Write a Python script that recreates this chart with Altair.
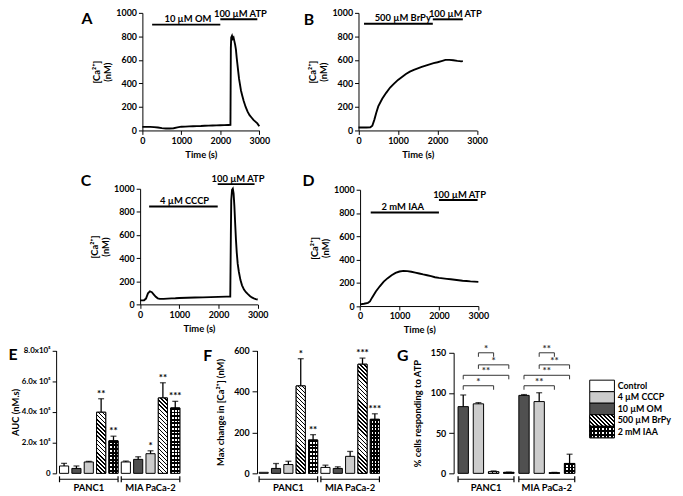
import math
import altair as alt
import pandas as pd

# ---------------- values ----------------
# Panels A-D: cytosolic [Ca2+] traces (time in s, [Ca2+] in nM)
A_t = [0, 100, 200, 300, 400, 500, 600, 700, 800, 900, 1000, 1100, 1200, 1300, 1400, 1500, 1600, 1700,
       1800, 1900, 2000, 2100, 2200, 2260, 2270, 2280, 2300, 2320, 2340, 2360, 2380, 2400, 2420, 2440,
       2460, 2480, 2500, 2530, 2560, 2600, 2650, 2700, 2750, 2800, 2850, 2900, 2950, 3000]
A_v = [30, 30, 30, 28, 25, 20, 17, 17, 19, 26, 32, 33, 35, 36, 37, 38, 40, 41,
       42, 43, 44, 45, 46, 47, 700, 790, 805, 780, 790, 760, 730, 690, 620, 560,
       500, 440, 400, 340, 300, 250, 200, 160, 130, 110, 90, 75, 60, 35]

B_t = [0, 100, 200, 300, 350, 400, 450, 500, 600, 700, 800, 900, 1000, 1100, 1200, 1300, 1400, 1500,
       1600, 1700, 1800, 1900, 2000, 2100, 2200, 2300, 2400, 2500, 2600, 2640]
B_v = [25, 25, 25, 27, 40, 90, 150, 205, 270, 320, 365, 398, 430, 455, 480, 500, 515, 528,
       540, 552, 562, 572, 580, 590, 600, 600, 597, 592, 588, 590]

C_t = [0, 50, 100, 150, 200, 250, 300, 350, 400, 450, 500, 600, 700, 800, 900, 1000, 1200, 1400,
       1600, 1800, 2000, 2200, 2300, 2315, 2325, 2345, 2365, 2385, 2405, 2425, 2445, 2465, 2490,
       2520, 2560, 2600, 2650, 2700, 2750, 2800, 2850, 2900, 2950, 3000]
C_v = [35, 35, 36, 50, 95, 112, 105, 85, 65, 52, 48, 48, 50, 52, 53, 55, 57, 59,
       61, 63, 65, 67, 68, 600, 900, 990, 1000, 960, 850, 700, 560, 450, 350,
       280, 210, 165, 128, 105, 88, 72, 60, 52, 46, 42]

D_t = [0, 100, 200, 250, 300, 400, 500, 600, 700, 800, 900, 1000, 1100, 1200, 1300, 1400, 1500,
       1600, 1700, 1800, 1900, 2000, 2100, 2200, 2300, 2400, 2500, 2600, 2700, 2800, 2900, 3000]
D_v = [15, 20, 28, 40, 70, 125, 170, 210, 240, 265, 285, 297, 302, 300, 295, 288, 280,
       272, 265, 257, 248, 242, 238, 234, 230, 226, 222, 218, 215, 212, 210, 208]

TIME_TICKS = [0, 1000, 2000, 3000]
CA_TICKS = [0, 200, 400, 600, 800, 1000]

# drug application bars (label, start s, end s, bar level nM, label centre s)
A_ann_text = ["10 µM OM", "100 µM ATP"]
A_ann_from = [250, 2000]
A_ann_to = [2000, 2950]
A_ann_level = [900, 945]
A_ann_text_t = [1168, 2515]

B_ann_text = ["500 µM BrPy", "100 µM ATP"]
B_ann_from = [140, 1880]
B_ann_to = [1880, 2640]
B_ann_level = [907, 945]
B_ann_text_t = [1120, 2450]

C_ann_text = ["4 µM CCCP", "100 µM ATP"]
C_ann_from = [230, 1980]
C_ann_to = [1980, 2920]
C_ann_level = [846, 1040]
C_ann_text_t = [1134, 2498]

D_ann_text = ["2 mM IAA", "100 µM ATP"]
D_ann_from = [270, 2000]
D_ann_to = [2000, 2980]
D_ann_level = [805, 912]
D_ann_text_t = [1083, 2524]

# Panels E-G: bar charts
GROUPS = ["PANC1", "MIA PaCa-2"]
EF_CONDS = ["Control", "10 µM OM", "4 µM CCCP", "500 µM BrPy", "2 mM IAA"]
G_CONDS = ["10 µM OM", "4 µM CCCP", "500 µM BrPy", "2 mM IAA"]
LEGEND_CONDS = ["Control", "4 µM CCCP", "10 µM OM", "500 µM BrPy", "2 mM IAA"]
LEGEND_FILLS = ["white", "#cccccc", "#505050", "white", "white"]
HATCHED = "500 µM BrPy"
CHECKED = "2 mM IAA"

E_PANC1_mean = [48000, 32000, 74000, 398000, 212000]
E_PANC1_err = [17000, 16000, 4000, 88000, 30000]
E_PANC1_sig = ["", "", "", "**", "**"]
E_MIA_mean = [74000, 91000, 128000, 491000, 426000]
E_MIA_err = [6000, 17000, 19000, 99000, 43000]
E_MIA_sig = ["", "", "*", "**", "***"]
E_TICKS = [0, 200000, 400000, 600000, 800000]

F_PANC1_mean = [5, 24, 43, 427, 163]
F_PANC1_err = [0, 24, 16, 133, 26]
F_PANC1_sig = ["", "", "", "*", "**"]
F_MIA_mean = [29, 24, 83, 533, 264]
F_MIA_err = [11, 8, 24, 30, 27]
F_MIA_sig = ["", "", "", "***", "***"]
F_TICKS = [0, 200, 400, 600]

G_PANC1_mean = [83, 86.5, 2, 1.2]
G_PANC1_err = [14.5, 1.5, 1, 0.3]
G_MIA_mean = [97, 89.3, 0.8, 12.3]
G_MIA_err = [1, 11, 0.4, 11.5]
G_NOSIG = ["", "", "", ""]
G_TICKS = [0, 50, 100, 150]

G_br_group = ["PANC1"] * 4 + ["MIA PaCa-2"] * 4
G_br_from = ["4 µM CCCP", "4 µM CCCP", "10 µM OM", "10 µM OM"] * 2
G_br_to = ["500 µM BrPy", "2 mM IAA", "2 mM IAA", "500 µM BrPy"] * 2
G_br_level = [150, 135, 122, 109] * 2
G_br_label = ["*", "*", "**", "*", "**", "**", "**", "**"]

# ---------------- layout / style ----------------
W, H = 675, 488
FONT = "Lato"
GEOM = {
    "A": dict(xr=[136, 254.3], yr=[121, 2]),
    "B": dict(xr=[354.7, 474.7], yr=[121, 2]),
    "C": dict(xr=[133.7, 252.7], yr=[297, 180]),
    "D": dict(xr=[356.3, 476], yr=[298.7, 181]),
    "E": dict(xr=[50.5, 175.5], yr=[468, 343.7], axis=48.7, pad=0.26, tpad=1, lsize=8, tsize=4, lpad=2),
    "F": dict(xr=[252.5, 377.5], yr=[468, 343.7], axis=252, pad=0.26, tpad=8, lsize=9, tsize=5, lpad=3),
    "G": dict(xr=[453, 576], yr=[468, 346], axis=451, pad=0.32, tpad=8, lsize=9, tsize=5, lpad=3),
}
BRACKET_Y = 474
GROUP_LABEL_Y = 482.5
LEGEND_X = [588.7, 613.7]
LEGEND_Y = [373.7, 432]
LEGEND_TEXT_X = 617
LETTER_POS = {"A": (80, 8), "B": (304.5, 9), "C": (79, 172), "D": (304, 172),
              "E": (5, 348), "F": (202, 349.5), "G": (399.5, 349.5)}

FILL_SCALE = alt.Scale(domain=LEGEND_CONDS, range=LEGEND_FILLS)
SQ2 = math.sqrt(2)


def stripe_stops(n, frac, c_on, c_off):
    stops = []
    for k in range(n):
        s, m, e = k / n, (k + frac) / n, (k + 1) / n
        stops += [{"offset": s, "color": c_on}, {"offset": m, "color": c_on},
                  {"offset": m, "color": c_off}, {"offset": e, "color": c_off}]
    return stops


def hatch_fill(w, h, period=2.9):
    h = max(h, 0.5)
    n = max(1, round((w + h) / SQ2 / period))
    d = w * w + h * h
    a = w * (w + h) / d
    b = -h * (w + h) / d
    return {"gradient": "linear", "x1": 0, "y1": 1, "x2": a, "y2": 1 + b,
            "stops": stripe_stops(n, 0.4, "black", "white")}


def hstripe_fill(h, period=3.6):
    n = max(1, round(h / period))
    return {"gradient": "linear", "x1": 0, "y1": 0, "x2": 0, "y2": 1,
            "stops": stripe_stops(n, 0.52, "black", "white")}


def vstripe_fill(w, period=3.6):
    n = max(1, round(w / period))
    return {"gradient": "linear", "x1": 0, "y1": 0, "x2": 1, "y2": 0,
            "stops": stripe_stops(n, 0.52, "black", "rgba(255,255,255,0)")}


def trace_panel(key, t, v, ann_text, ann_from, ann_to, ann_level, ann_text_t):
    g = GEOM[key]
    xs = alt.Scale(domain=[0, 3000], range=g["xr"], nice=False, zero=False)
    ys = alt.Scale(domain=[0, 1000], range=g["yr"], nice=False, zero=False)
    trace = pd.DataFrame({"t": t, "v": v})
    line = alt.Chart(trace).mark_line(color="black", strokeWidth=1.9).encode(
        x=alt.X("t:Q", scale=xs, axis=alt.Axis(orient="bottom", offset=g["yr"][0] - H, values=TIME_TICKS,
                                                format="d", title="Time (s)", labelFlush=False)),
        y=alt.Y("v:Q", scale=ys, axis=alt.Axis(orient="left", offset=-g["xr"][0], values=CA_TICKS,
                                                format="d", title=["[Ca²⁺]", "(nM)"], titlePadding=3)),
    )
    ann = pd.DataFrame({"text": ann_text, "t0": ann_from, "t1": ann_to, "level": ann_level, "tt": ann_text_t})
    bars = alt.Chart(ann).mark_rule(color="black", strokeWidth=2).encode(
        x=alt.X("t0:Q", scale=xs, axis=None), x2="t1:Q",
        y=alt.Y("level:Q", scale=ys, axis=None))
    labels = alt.Chart(ann).mark_text(baseline="alphabetic", dy=-2.5, fontSize=9.5).encode(
        x=alt.X("tt:Q", scale=xs, axis=None), y=alt.Y("level:Q", scale=ys, axis=None), text="text:N")
    return [line, bars, labels]


def bar_panel(key, conds, means, errs, sigs, ymax, yticks, ytitle, label_expr=None, brackets=None):
    g = GEOM[key]
    rows = []
    for grp, ms, es, ss in zip(GROUPS, means, errs, sigs):
        for c, m, e, s in zip(conds, ms, es, ss):
            rows.append(dict(slot=grp + "|" + c, group=grp, cond=c, mean=m, err=e, top=m + e, sig=s))
    df = pd.DataFrame(rows)
    slots = df["slot"].tolist()
    pin = g["pad"]
    xs = alt.Scale(domain=slots, range=g["xr"], paddingInner=pin, paddingOuter=pin / 2)
    ys = alt.Scale(domain=[0, ymax], range=g["yr"], nice=False, zero=True)
    step = (g["xr"][1] - g["xr"][0]) / len(slots)
    bw = step * (1 - pin)
    ppu = (g["yr"][0] - g["yr"][1]) / ymax
    X = alt.X("slot:N", scale=xs, axis=None)
    Ymean = alt.Y("mean:Q", scale=ys, axis=None, stack=None)
    axis_kw = dict(orient="left", offset=-g["axis"], values=yticks, title=ytitle, titlePadding=g["tpad"],
                   tickSize=g["tsize"], labelPadding=g["lpad"], labelFontSize=g["lsize"], format="d")
    if label_expr:
        axis_kw["labelExpr"] = label_expr
    layers = [alt.Chart(df).mark_bar(stroke="black", strokeWidth=1).encode(
        x=X, y=alt.Y("mean:Q", scale=ys, axis=alt.Axis(**axis_kw), stack=None),
        fill=alt.Fill("cond:N", scale=FILL_SCALE, legend=None))]
    for r in rows:
        h = r["mean"] * ppu
        pred = alt.FieldEqualPredicate(field="slot", equal=r["slot"])
        if r["cond"] == HATCHED:
            layers.append(alt.Chart(df).transform_filter(pred).mark_bar(
                fill=hatch_fill(bw, h), stroke="black", strokeWidth=1).encode(x=X, y=Ymean))
        elif r["cond"] == CHECKED:
            layers.append(alt.Chart(df).transform_filter(pred).mark_bar(
                fill=hstripe_fill(h), strokeWidth=0).encode(x=X, y=Ymean))
            layers.append(alt.Chart(df).transform_filter(pred).mark_bar(
                fill=vstripe_fill(bw), stroke="black", strokeWidth=1).encode(x=X, y=Ymean))
    err = alt.Chart(df).transform_filter("datum.err > 0")
    layers.append(err.mark_rule(color="black", strokeWidth=1.3).encode(
        x=X, y=alt.Y("mean:Q", scale=ys, axis=None), y2="top:Q"))
    layers.append(err.mark_tick(color="black", thickness=1.3, size=6).encode(
        x=X, y=alt.Y("top:Q", scale=ys, axis=None)))
    layers.append(alt.Chart(df).transform_filter("datum.sig != ''").mark_text(
        baseline="alphabetic", dy=-2, fontSize=10).encode(
        x=X, y=alt.Y("top:Q", scale=ys, axis=None), text="sig:N"))
    # group brackets below the bars
    n = len(conds)
    grp_df = pd.DataFrame({"group": GROUPS,
                           "first": [slots[i * n] for i in range(len(GROUPS))],
                           "last": [slots[i * n + n - 1] for i in range(len(GROUPS))]})
    layers.append(alt.Chart(grp_df).mark_rule(color="black", strokeWidth=1.2).encode(
        x=alt.X("first:N", scale=xs, axis=None, bandPosition=0), x2=alt.X2("last:N", bandPosition=1),
        y=alt.value(BRACKET_Y)))
    layers.append(alt.Chart(grp_df).mark_rule(color="black", strokeWidth=1.2).encode(
        x=alt.X("first:N", scale=xs, axis=None, bandPosition=0),
        y=alt.value(BRACKET_Y - 3), y2=alt.value(BRACKET_Y + 3)))
    layers.append(alt.Chart(grp_df).mark_rule(color="black", strokeWidth=1.2).encode(
        x=alt.X("last:N", scale=xs, axis=None, bandPosition=1),
        y=alt.value(BRACKET_Y - 3), y2=alt.value(BRACKET_Y + 3)))
    layers.append(alt.Chart(grp_df).mark_text(baseline="middle", fontSize=9.5).encode(
        x=alt.X("group:N", scale=alt.Scale(domain=GROUPS, range=g["xr"], paddingInner=0, paddingOuter=0), axis=None),
        y=alt.value(GROUP_LABEL_Y), text="group:N"))
    if brackets is not None:
        bgroup, bfrom, bto, blevel, blabel = brackets
        idx = {c: i for i, c in enumerate(conds)}
        brow = []
        for gg, f, t, lv, lb in zip(bgroup, bfrom, bto, blevel, blabel):
            base = GROUPS.index(gg) * n
            fi, ti = base + idx[f], base + idx[t]
            brow.append(dict(fi=fi, ti=ti, mid=(fi + ti) / 2, level=lv, tick_end=lv - 5, label=lb))
        bdf = pd.DataFrame(brow)
        qs = alt.Scale(domain=[-0.5, len(slots) - 0.5], range=g["xr"], nice=False, zero=False)
        Yl = alt.Y("level:Q", scale=ys, axis=None)
        layers.append(alt.Chart(bdf).mark_rule(color="#333333", strokeWidth=1).encode(
            x=alt.X("fi:Q", scale=qs, axis=None), x2="ti:Q", y=Yl))
        layers.append(alt.Chart(bdf).mark_rule(color="#333333", strokeWidth=1).encode(
            x=alt.X("fi:Q", scale=qs, axis=None), y=Yl, y2="tick_end:Q"))
        layers.append(alt.Chart(bdf).mark_rule(color="#333333", strokeWidth=1).encode(
            x=alt.X("ti:Q", scale=qs, axis=None), y=Yl, y2="tick_end:Q"))
        layers.append(alt.Chart(bdf).mark_text(baseline="alphabetic", dy=-1, fontSize=10, color="#333333").encode(
            x=alt.X("mid:Q", scale=qs, axis=None), y=Yl, text="label:N"))
    return layers


def legend_layers():
    ldf = pd.DataFrame({"cond": LEGEND_CONDS})
    ls = alt.Scale(domain=LEGEND_CONDS, range=LEGEND_Y, paddingInner=0, paddingOuter=0)
    Yc = alt.Y("cond:N", scale=ls, axis=None)
    bw = LEGEND_X[1] - LEGEND_X[0]
    bh = (LEGEND_Y[1] - LEGEND_Y[0]) / len(LEGEND_CONDS)
    xx = dict(x=alt.value(LEGEND_X[0]), x2=alt.value(LEGEND_X[1]))
    out = [alt.Chart(ldf).mark_rect(stroke="black", strokeWidth=1).encode(
        y=Yc, fill=alt.Fill("cond:N", scale=FILL_SCALE, legend=None), **xx)]
    out.append(alt.Chart(ldf).transform_filter(alt.FieldEqualPredicate(field="cond", equal=HATCHED)).mark_rect(
        fill=hatch_fill(bw, bh), stroke="black", strokeWidth=1).encode(y=Yc, **xx))
    out.append(alt.Chart(ldf).transform_filter(alt.FieldEqualPredicate(field="cond", equal=CHECKED)).mark_rect(
        fill=hstripe_fill(bh), strokeWidth=0).encode(y=Yc, **xx))
    out.append(alt.Chart(ldf).transform_filter(alt.FieldEqualPredicate(field="cond", equal=CHECKED)).mark_rect(
        fill=vstripe_fill(bw), stroke="black", strokeWidth=1).encode(y=Yc, **xx))
    out.append(alt.Chart(ldf).mark_text(align="left", baseline="middle", fontSize=9).encode(
        x=alt.value(LEGEND_TEXT_X), y=Yc, text="cond:N"))
    return out


layers = []
layers += trace_panel("A", A_t, A_v, A_ann_text, A_ann_from, A_ann_to, A_ann_level, A_ann_text_t)
layers += trace_panel("B", B_t, B_v, B_ann_text, B_ann_from, B_ann_to, B_ann_level, B_ann_text_t)
layers += trace_panel("C", C_t, C_v, C_ann_text, C_ann_from, C_ann_to, C_ann_level, C_ann_text_t)
layers += trace_panel("D", D_t, D_v, D_ann_text, D_ann_from, D_ann_to, D_ann_level, D_ann_text_t)

E_EXPR = ("datum.value == 0 ? '0' : (datum.value == 800000 ? '8.0x10⁵' : "
          "format(datum.value / 100000, '.1f') + 'x 10⁵')")
layers += bar_panel("E", EF_CONDS, [E_PANC1_mean, E_MIA_mean], [E_PANC1_err, E_MIA_err],
                    [E_PANC1_sig, E_MIA_sig], 800000, E_TICKS, "AUC (nM.s)", label_expr=E_EXPR)
layers += bar_panel("F", EF_CONDS, [F_PANC1_mean, F_MIA_mean], [F_PANC1_err, F_MIA_err],
                    [F_PANC1_sig, F_MIA_sig], 600, F_TICKS, "Max change in [Ca²⁺] (nM)")
layers += bar_panel("G", G_CONDS, [G_PANC1_mean, G_MIA_mean], [G_PANC1_err, G_MIA_err],
                    [G_NOSIG, G_NOSIG], 150, G_TICKS, "% cells responding to ATP",
                    brackets=(G_br_group, G_br_from, G_br_to, G_br_level, G_br_label))
layers += legend_layers()

for letter, (lx, ly) in LETTER_POS.items():
    layers.append(alt.Chart(pd.DataFrame({"letter": [letter]})).mark_text(
        fontSize=16, baseline="middle", align="center").encode(
        x=alt.value(lx), y=alt.value(ly), text="letter:N"))

chart = alt.layer(*layers).resolve_scale(
    x="independent", y="independent", fill="independent"
).properties(
    width=W, height=H, autosize=alt.AutoSizeParams(type="none"), padding=0
).configure(font=FONT).configure_axis(
    labelFont=FONT, titleFont=FONT, labelFontWeight="bold", titleFontWeight="bold",
    labelFontSize=9, titleFontSize=9.5, labelColor="black", titleColor="black",
    domainColor="black", tickColor="black", grid=False, tickSize=4, labelPadding=2,
    domainWidth=1, tickWidth=1
).configure_text(font=FONT, fontWeight="bold", fontSize=9.5, color="black").configure_view(strokeWidth=0)

chart.save("out.html", embed_options={"renderer": "svg", "actions": False})
